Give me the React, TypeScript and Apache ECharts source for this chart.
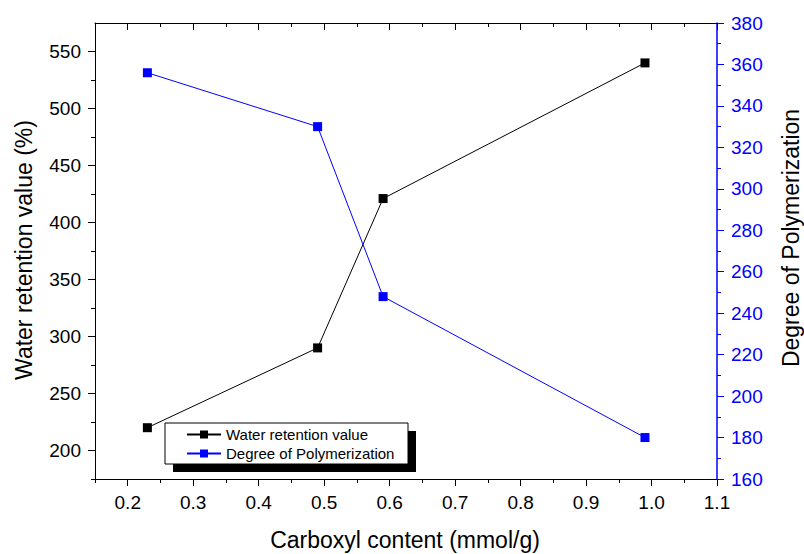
import React, { useEffect, useRef } from "react";
import * as echarts from "echarts";

const xMajor = [0.2, 0.3, 0.4, 0.5, 0.6, 0.7, 0.8, 0.9, 1.0, 1.1];
const xMinor = [0.15, 0.25, 0.35, 0.45, 0.55, 0.65, 0.75, 0.85, 0.95, 1.05];
const yLeftMajor = [200, 250, 300, 350, 400, 450, 500, 550];
const yLeftMinor = [175, 225, 275, 325, 375, 425, 475, 525];
const carboxyl = [0.23, 0.49, 0.59, 0.99];
const waterRetention = [220, 290, 421, 540];
const polymerization = [356, 330, 248, 180];

const FONT = "'Liberation Sans', Arial, sans-serif";
const BLUE = "#0000ff";

export default function App() {
  const ref = useRef<HTMLDivElement>(null);
  useEffect(() => {
    if (!ref.current) return;
    const chart = echarts.init(ref.current, null, { renderer: "svg" });
    const blackLine = { lineStyle: { color: "#000", width: 1 } };
    const common = { type: "value", min: 0.15, max: 1.1, splitLine: { show: false } };
    chart.setOption({
      animation: false,
      textStyle: { fontFamily: FONT },
      grid: { left: 95, right: 87, top: 23, bottom: 75 },
      xAxis: [
        {
          ...common,
          position: "bottom",
          axisLine: { show: true, ...blackLine },
          axisTick: { show: true, customValues: xMajor, length: 7, ...blackLine },
          axisLabel: {
            customValues: xMajor,
            formatter: (v: number) => v.toFixed(1),
            fontSize: 19,
            color: "#000",
            margin: 14,
            fontFamily: FONT,
          },
        },
        {
          ...common,
          position: "bottom",
          axisLine: { show: false },
          axisTick: { show: true, customValues: xMinor, length: 4, ...blackLine },
          axisLabel: { show: false },
        },
        {
          ...common,
          position: "top",
          axisLine: { show: true, ...blackLine },
          axisTick: { show: true, inside: true, customValues: xMajor, length: 7, ...blackLine },
          axisLabel: { show: false },
        },
        {
          ...common,
          position: "top",
          axisLine: { show: false },
          axisTick: { show: true, inside: true, customValues: xMinor, length: 4, ...blackLine },
          axisLabel: { show: false },
        },
      ],
      yAxis: [
        {
          type: "value",
          min: 175,
          max: 575,
          position: "left",
          splitLine: { show: false },
          axisLine: { show: true, ...blackLine },
          axisTick: { show: true, customValues: yLeftMajor, length: 7, ...blackLine },
          axisLabel: {
            customValues: yLeftMajor,
            fontSize: 19,
            color: "#000",
            margin: 14,
            fontFamily: FONT,
          },
        },
        {
          type: "value",
          min: 175,
          max: 575,
          position: "left",
          splitLine: { show: false },
          axisLine: { show: false },
          axisTick: { show: true, customValues: yLeftMinor, length: 4, ...blackLine },
          axisLabel: { show: false },
        },
        {
          type: "value",
          min: 160,
          max: 380,
          interval: 20,
          position: "right",
          splitLine: { show: false },
          axisLine: { show: true, lineStyle: { color: BLUE, width: 1.5 } },
          axisTick: { show: true, length: 7, lineStyle: { color: BLUE, width: 1 } },
          minorTick: { show: true, splitNumber: 2, length: 4, lineStyle: { color: BLUE, width: 1 } },
          minorSplitLine: { show: false },
          axisLabel: { fontSize: 19, color: BLUE, margin: 14, fontFamily: FONT },
        },
      ],
      legend: {
        orient: "vertical",
        left: 181,
        top: 422,
        z: 10,
        itemWidth: 34,
        itemHeight: 10,
        itemGap: 4,
        textStyle: { fontSize: 15, color: "#000", fontFamily: FONT, lineHeight: 15, padding: [0, 0, 0, 0] },
        data: ["Water retention value", "Degree of Polymerization"],
      },
      graphic: [
        { type: "rect", z: 3, shape: { x: 173, y: 431, width: 243, height: 41 }, style: { fill: "#000" } },
        {
          type: "rect",
          z: 3,
          shape: { x: 165, y: 423, width: 243, height: 41 },
          style: { fill: "#fff", stroke: "#000", lineWidth: 1 },
        },
        {
          type: "text",
          x: 24,
          y: 250,
          rotation: Math.PI / 2,
          style: {
            text: "Water retention value (%)",
            fontSize: 23,
            fontFamily: FONT,
            fill: "#000",
            align: "center",
            verticalAlign: "middle",
          },
        },
        {
          type: "text",
          x: 791,
          y: 238,
          rotation: Math.PI / 2,
          style: {
            text: "Degree of Polymerization",
            fontSize: 23,
            fontFamily: FONT,
            fill: "#000",
            align: "center",
            verticalAlign: "middle",
          },
        },
        {
          type: "text",
          x: 405,
          y: 540,
          style: {
            text: "Carboxyl content (mmol/g)",
            fontSize: 23,
            fontFamily: FONT,
            fill: "#000",
            align: "center",
            verticalAlign: "middle",
          },
        },
      ],
      series: [
        {
          name: "Water retention value",
          type: "line",
          xAxisIndex: 0,
          yAxisIndex: 0,
          data: carboxyl.map((x, i) => [x, waterRetention[i]]),
          symbol: "rect",
          symbolSize: 9,
          itemStyle: { color: "#000" },
          lineStyle: { color: "#000", width: 1 },
        },
        {
          name: "Degree of Polymerization",
          type: "line",
          xAxisIndex: 0,
          yAxisIndex: 2,
          data: carboxyl.map((x, i) => [x, polymerization[i]]),
          symbol: "rect",
          symbolSize: 9,
          itemStyle: { color: BLUE },
          lineStyle: { color: BLUE, width: 1 },
        },
      ],
    });
    return () => chart.dispose();
  }, []);
  return <div ref={ref} style={{ width: 804, height: 554, position: "absolute", left: 0, top: 0 }} />;
}
